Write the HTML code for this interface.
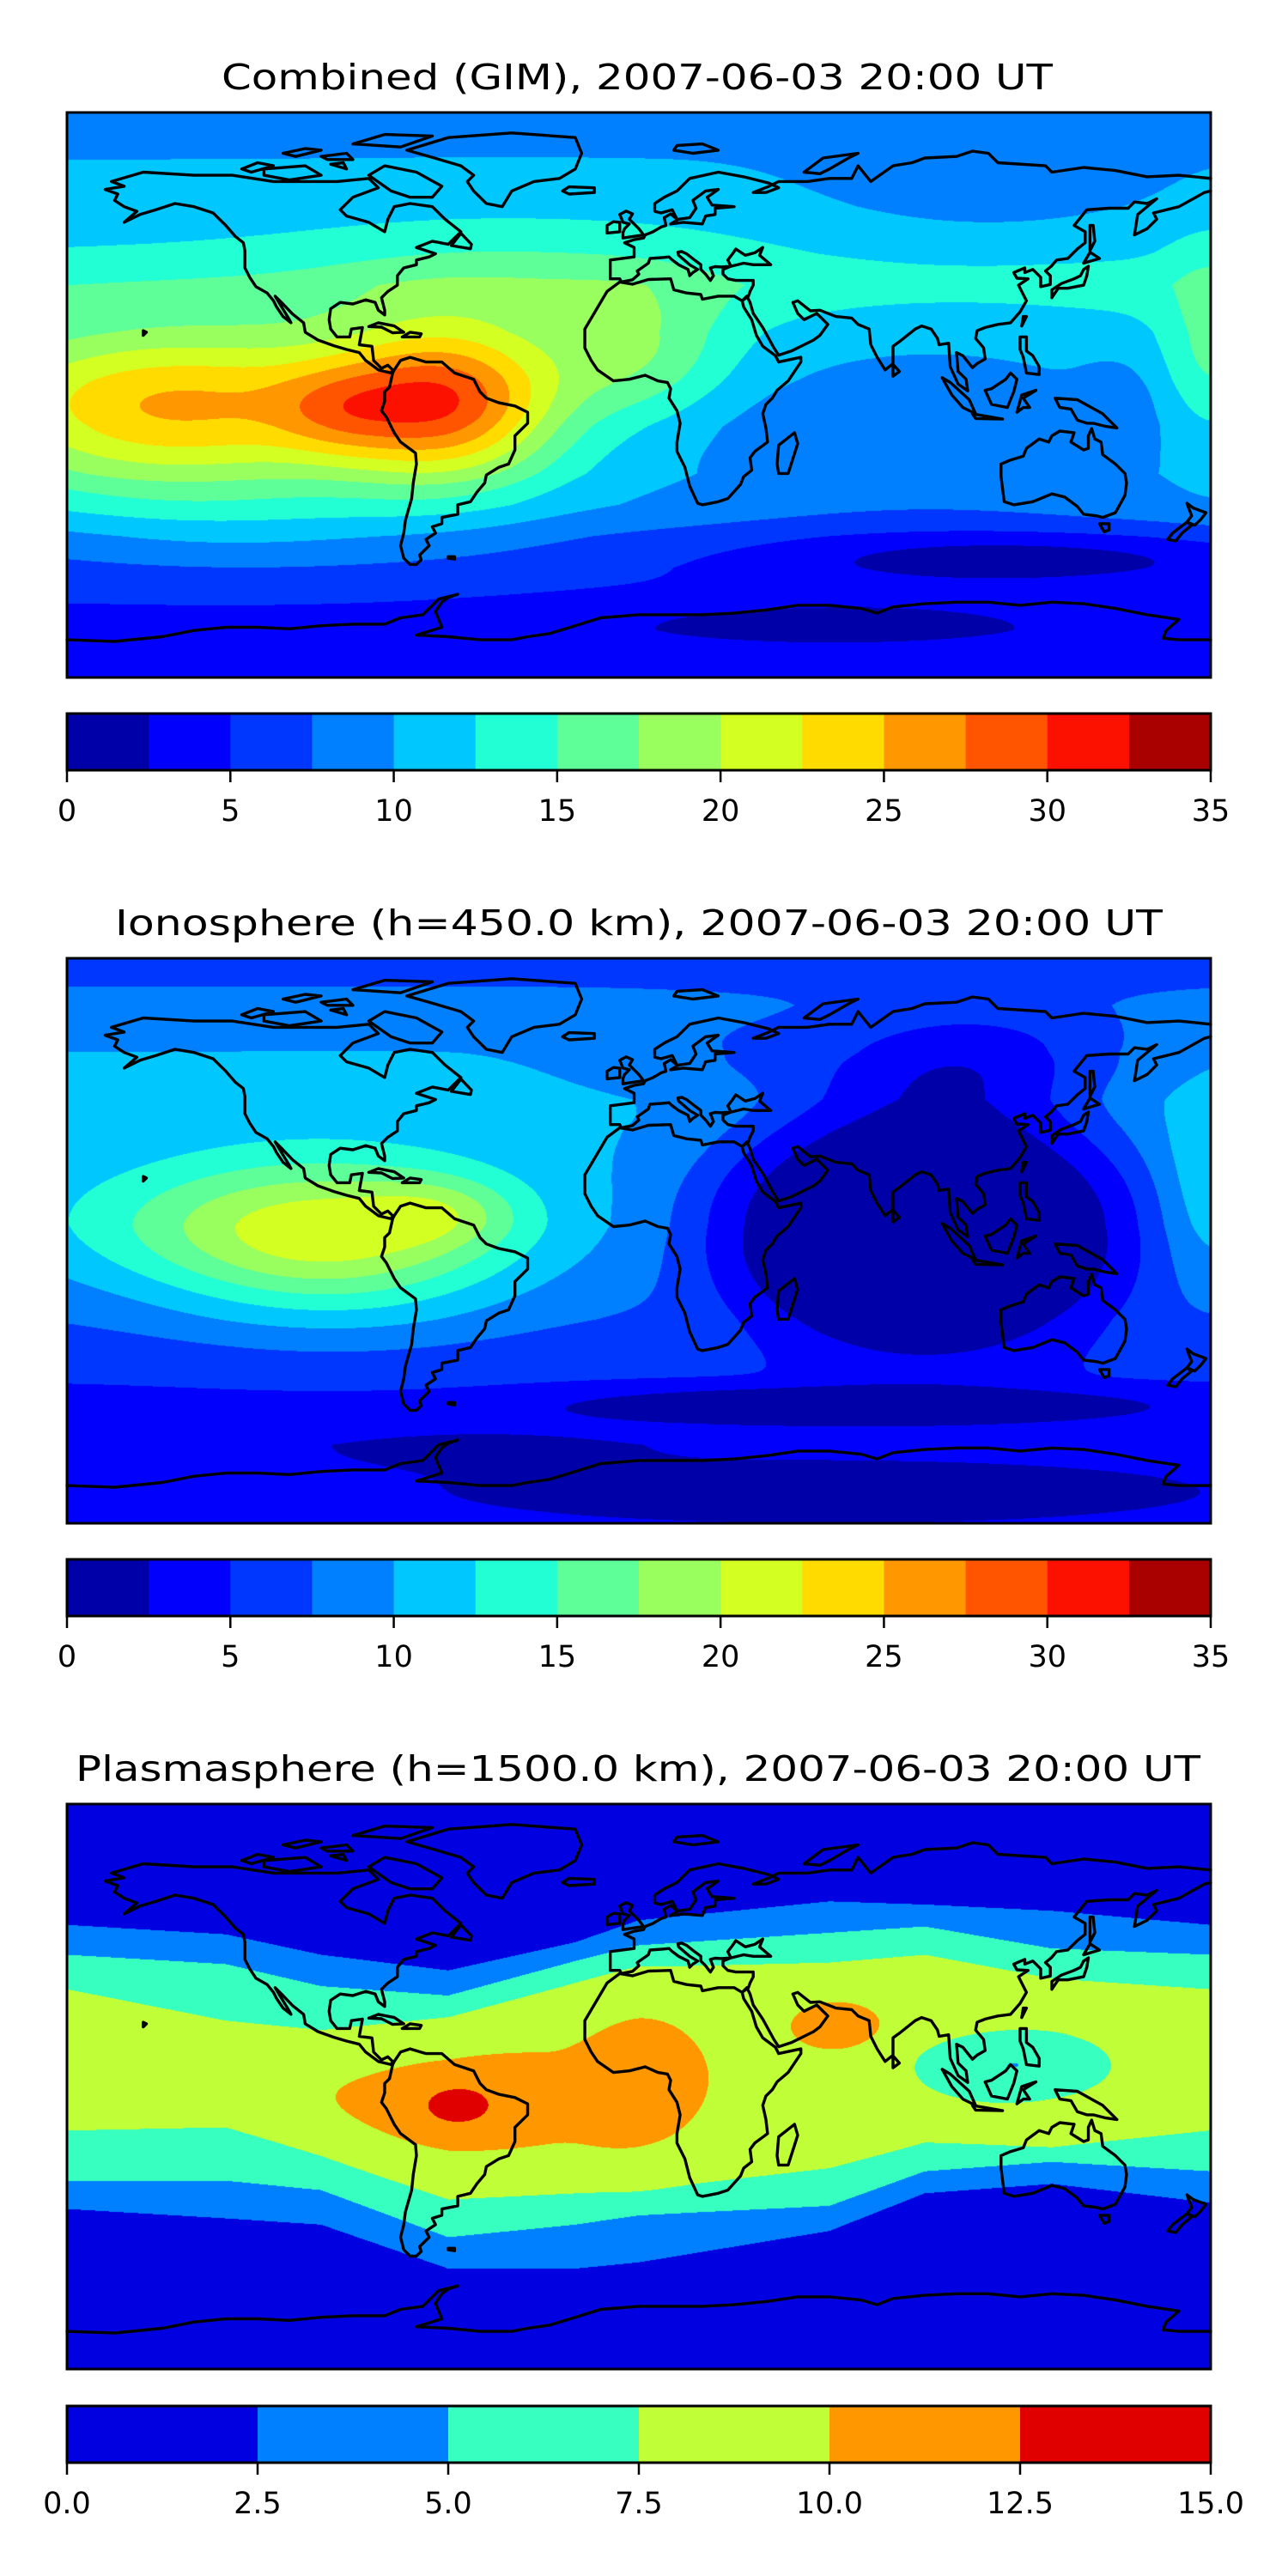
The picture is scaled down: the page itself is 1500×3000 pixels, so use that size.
<!DOCTYPE html>
<html><head><meta charset="utf-8"><title>GIM / Ionosphere / Plasmasphere TEC maps</title>
<style>
html,body{margin:0;padding:0;background:#fff;}
#page{position:relative;width:1500px;height:3000px;background:#fff;overflow:hidden;}
canvas{position:absolute;}
svg{position:absolute;left:0;top:0;}
</style></head>
<body>
<div id="page">
<canvas id="c0" width="1332" height="658" style="left:78px;top:131px"></canvas>
<canvas id="c1" width="1332" height="658" style="left:78px;top:1116px"></canvas>
<canvas id="c2" width="1332" height="658" style="left:78px;top:2101px"></canvas>
<svg id="ov" width="1500" height="3000" xmlns="http://www.w3.org/2000/svg"></svg>
</div>
<script>
// ---------- data ----------
const latNodes = [-90,-75,-65,-55,-45,-35,-25,-10,5,20,35,45,60,75,90];
const combinedBase = [3.5,4,5,6,7.5,10,11,11,12,12.5,14,12.5,11,10,8.5];
// [lon, lat, amplitude, sigmaLon, sigmaLat, (power)]
const combinedBlobs = [[-60,-3,15.5,25,17],[-145,-5,14,50,18],[-95,-5,4,15,10],[0,12,5,20,15],[-40,35,3,50,15],[180,15,4,10,22],[90,-10,-3.5,55,25],[110,68,-2.5,35,12],[120,-52,-4.5,60,6],[60,-72,-2.5,60,6],[-120,-45,2,50,10],[150,0,-2,8,8]];
const ionoBase = [3,3,3,4,5,6,7,8,9,9.5,10,10.5,10,8.5,6];
const ionoBlobs = [[-95,0,10,40,18],[-62,9,4,17,8],[-130,5,4,50,15],[90,7,-10,50,30,2],[105,58,-6,35,12],[30,58,-2,30,10],[180,15,3,12,20],[70,-52,-3,75,5,2],[60,-80,-2,70,6],[-50,-65,-1,40,6]];
const plasmaLonNodes = [-180,-130,-100,-60,-20,0,60,90,130,180];
const plasmaN25 = [51.5,48.5,42,37,46,53,59,58,56,51.5];
const plasmaN5  = [42,39,32,29,40,45,49,51,44,42];
const plasmaN75 = [31,21,18,22,33,38,39.5,42,34.5,31];
const plasmaS75 = [-14,-13,-22,-36,-34,-33,-26,-18,-19.5,-14];
const plasmaS5  = [-30,-30,-33,-48,-44,-41,-38,-27,-24,-27];
const plasmaS25 = [-39,-42,-44,-58,-58,-56,-46,-34,-31,-37];
const plasmaBlobs = [[-45,-5,1.5,35,14,2],[0,2,1.5,15,20,2],[-57,-6,2.5,9.5,5.5],[62,20,2.5,10,5.5,2],[118,7,-4.5,24,8]];
const combinedTicks = ["0","5","10","15","20","25","30","35"];
const plasmaTicks = ["0.0","2.5","5.0","7.5","10.0","12.5","15.0"];

// ---------- coastlines (lon,lat) ----------
const coasts = [
[[-166,68],[-156,71],[-140,70],[-128,70],[-115,68],[-95,68],[-85,69],[-82,66],[-90,63],[-94,59],[-92,57],[-85,55],[-80,52],[-79,56],[-77,60],[-72,61],[-65,60],[-61,56],[-56,52],[-60,48],[-65,49],[-70,47],[-64,45],[-66,44],[-70,43],[-70,41.5],[-74,40.5],[-76,38],[-76,35],[-79,33],[-81,31],[-80,27],[-80,25.5],[-82,27],[-83,29.5],[-86,30.3],[-90,29],[-94,29.5],[-97,27.5],[-97.5,24],[-97,21],[-95,18.5],[-91,18.5],[-90.5,21],[-87,21.5],[-88,16],[-84,15.5],[-83.5,11],[-81,8.5],[-79,9.5],[-77.5,8],[-78,7],[-80,7.5],[-82,8],[-86,11],[-88,13.5],[-92,14.5],[-96,15.7],[-101,17.5],[-105,20],[-105.5,23],[-109,25.8],[-112.5,29.5],[-114.5,31.5],[-113,29],[-110,24],[-109.5,23],[-112,25],[-114,28],[-115,30],[-117,32.5],[-120.5,34.5],[-122.5,37.5],[-124,40.5],[-124,46],[-124.5,48.5],[-127,50.5],[-130,54],[-134,58],[-140,60],[-146,61],[-152,59],[-157,57.5],[-162,55],[-158,58.5],[-162,60],[-165,62],[-164,64],[-168,65.5],[-162,66.5],[-166,68]],
[[-73,78],[-60,82],[-40,83.5],[-20,82],[-18,77],[-20,72],[-25,69],[-33,68],[-40,65],[-43,60],[-48,61],[-52,65],[-54,68],[-52,70],[-56,73],[-66,76],[-73,78]],
[[-80,73],[-70,71],[-62,66.5],[-65,63],[-72,63],[-78,65],[-85,70],[-80,73]],
[[-118,72],[-105,73],[-100,70],[-110,68.5],[-118,70],[-118,72]],
[[-90,80],[-80,83],[-65,82.5],[-75,79],[-90,80]],
[[-125,72],[-120,74],[-115,73],[-122,71],[-125,72]],
[[-100,76],[-92,77],[-90,75],[-98,75],[-100,76]],
[[-112,77],[-105,78.5],[-100,78],[-108,76],[-112,77]],
[[-97,73.5],[-93,74],[-92,72],[-97,73.5]],
[[-59,47.6],[-53,46.6],[-52.7,48],[-56,51.5],[-59,47.6]],
[[-85,21.8],[-82,23],[-77,22],[-74,20],[-77.5,19.8],[-81,21.6],[-85,21.8]],
[[-74.5,18.5],[-69,18.5],[-68.5,19.5],[-72,20],[-74.5,18.5]],
[[-77,8],[-75,11],[-72,12],[-67,10.5],[-62,10.5],[-58,7],[-52,5],[-50,1],[-48,-1],[-44,-2.5],[-39,-3.5],[-35,-5.5],[-35,-9],[-39,-13],[-39,-17.5],[-41,-22],[-44,-23],[-48,-25.5],[-48.5,-28],[-51,-31],[-53,-34],[-57,-35],[-57,-38],[-62,-39],[-62,-41],[-65,-42],[-64,-44],[-67,-46],[-66,-48],[-69,-51],[-68.5,-52.5],[-70,-54],[-72,-54],[-74,-52],[-75,-48],[-74,-44],[-73.5,-40],[-71.5,-33],[-71,-28],[-70,-22],[-70.3,-18.5],[-75,-15],[-77,-12],[-79.5,-7],[-81,-5],[-80,-2],[-80,1],[-78.5,2.5],[-77.5,7],[-77,8]],
[[-6,36],[-10,33],[-17,21],[-17,15],[-15,11],[-13,8],[-8,4.5],[-3,5],[2,6.3],[6,4.5],[9,4],[10,2],[9.5,-1],[12,-5],[13,-9],[12,-15],[12,-18],[14.5,-23],[16,-29],[18.5,-34.5],[20,-35],[25,-34],[28,-33],[32,-28.5],[33,-26],[35.5,-24],[35,-20],[36.5,-18],[40.5,-15],[40,-10.5],[39,-6],[40,-3],[42,-1],[43.5,1.5],[47,4.5],[51,10.5],[51,12],[44,10.5],[43,12.5],[39,15.5],[37,19],[35.5,24],[33,28],[32.5,30],[30,31.5],[25,31.5],[20,30.5],[19.5,32],[15,32.5],[11,33.5],[10,37],[3,36.8],[-2,35.3],[-6,36]],
[[32.5,30],[34,31.5],[35,29.5],[36,26],[39,21.5],[42.5,15],[44,12.7],[48,14],[52,16],[55,17.5],[57,19],[59.5,22.5],[56,26],[52,24],[50,26],[48.5,29.5],[50,30],[54,26.8],[57,27],[62,25],[67,24.5],[69,22.5],[72.5,21],[73,16],[75,12],[77.5,8],[80,10],[80,15.5],[82,17],[87,21],[89,22],[92,21],[94,18],[94.5,16],[97.5,16.5],[98,9],[100.5,3.5],[103.5,1.3],[103,5],[100.5,7.5],[100,13.5],[102,12.5],[105,8.7],[106.5,10],[109,11.5],[108.5,15],[106,18],[106.5,20.5],[109,21.5],[113,22.5],[117,23],[120,26.5],[122,30],[121,32],[119.5,35],[122.5,37],[119,37.2],[118,39],[121.5,40.5],[121.5,39],[124,40],[126.5,37.5],[126.5,34.5],[129.5,35.2],[129.5,38],[128,39.5],[129.8,41],[131.5,43],[135,43.5],[138,46.5],[140.5,48.5],[140.5,52],[137,54],[141,59],[148,59.5],[154,59.5],[156,61.5],[160,61],[163,62.5],[157,57.5],[156,51],[160,53],[163,56],[162,58],[170,60],[178,64.5],[180,65]],
[[180,69],[170,70],[160,69.5],[150,71.5],[140,72.5],[130,71],[128,73],[113,74],[110,77],[105,77.7],[100,76],[90,75.5],[86,74],[80,73],[73,68],[69,73],[67,69],[60,69],[53,68],[44,68],[41,66.5],[36,64.5],[40,64.5],[44,66],[41,67.5],[33,69.5],[25,71],[16,69],[12,65],[8,63],[5,61],[5,58.5],[7,58],[10.5,59],[12,56],[10,57.7],[8,56.5],[8.5,54],[7,53.5],[4.5,52],[2,51],[1.5,50],[-1.5,49.5],[-4.5,48.5],[-1.5,47],[-1.5,44],[-9,43],[-9,39],[-9,37],[-6,37],[-5.5,36],[-2,36.7],[0,38.5],[-0.5,39.5],[3,42],[3.5,43.5],[7.5,43.8],[9.5,44],[10.5,43],[12.5,41.5],[15.5,40],[16,38],[17,39],[18.5,40],[16,41.5],[13.5,43.7],[12.5,44.5],[12.3,45.5],[13.5,45.7],[15,45],[17.5,43],[19.5,41.5],[19.5,40],[21,38.5],[22.5,36.5],[23.5,38],[22.5,40.5],[24,40.9],[26,40.8],[29,41],[28,43],[29.5,45],[30.5,46.5],[33.5,44.5],[36.5,45.3],[39,47],[38,44.5],[41.5,41.5],[36,41.5],[33,42],[29,41],[26.5,40],[26.5,38.5],[28,37],[30.5,36.5],[36,36.5],[36,35],[35,33],[34.5,31.5],[32.5,30]],
[[10,54.5],[14,55],[20,54.5],[21,57],[24,57.5],[24,59.5],[30,60],[23,60.5],[21.5,63],[25,65.5],[21,65],[17,62],[18,59.5],[16,56.5],[12.5,56],[10,54.5]],
[[-5,50],[1.5,51],[0,53],[-3,56],[-2,57.7],[-4,58.6],[-6,57.5],[-5,55],[-3,54.5],[-4.5,53],[-5,51.7],[-5,50]],
[[-6,52],[-6,55],[-8,55.2],[-10,54],[-10,51.6],[-6,52]],
[[-22,64],[-14,64.5],[-14,66],[-22,66.3],[-24,65],[-22,64]],
[[11,78],[17,77],[25,78],[20,80],[12,79.5],[11,78]],
[[52,71],[57,70.5],[60,72],[66,75.5],[69,77],[58,75.5],[52,71]],
[[130,31],[132,34],[135,34],[140,35],[141,38],[141.5,41],[140,40],[139,38],[137,37],[133,35.5],[130,33.5],[130,31]],
[[140,42],[145,43.5],[142,45.5],[140,42]],
[[142,46],[143.5,49],[143,54],[142,54],[142,46]],
[[120.5,22],[122,25],[121,25],[120.5,22]],
[[44,-25],[47,-25],[50,-15.5],[49,-12],[44,-16],[43.5,-22],[44,-25]],
[[80,6],[82,7.5],[80,9.8],[80,6]],
[[120,18.5],[122,18.5],[122,14],[124,12.5],[126,9],[126,6.5],[122,7],[121,12],[120,14.5],[120,18.5]],
[[109,1.5],[111,-3],[116,-4],[118,1],[119,5],[117,7],[115.5,5],[111,2],[109,1.5]],
[[95.5,5.5],[98,4],[104,-1.5],[106,-6],[102,-4],[98.5,0],[95.5,5.5]],
[[105,-6],[114.5,-7.7],[106,-7.5],[105,-6]],
[[119,-5.5],[120.5,0],[125,1.5],[121,-1],[123,-4],[121,-4],[119,-5.5]],
[[131,-1],[138,-1.5],[146,-6],[150.5,-10.5],[147,-10],[143,-9],[141,-9],[138,-8],[136,-4.5],[132.5,-4],[131,-1]],
[[114,-22],[114,-26],[115,-34],[118,-35],[124,-34],[130,-31.5],[134,-32.5],[138,-35.5],[140,-38],[144,-38.5],[146,-39],[150,-37.5],[153,-32],[153.5,-28],[153,-25],[150,-22],[146,-19],[145.5,-15],[143.5,-14],[142.5,-10.7],[141.5,-13],[141.5,-17],[140,-17.5],[136,-15],[137,-12],[132.5,-11.5],[130,-13],[129,-15],[126,-14],[122,-17],[121,-19.5],[117,-20.7],[114,-22]],
[[145,-41],[148,-41],[148,-43],[146.5,-43.6],[145,-41]],
[[172.5,-34.5],[174.5,-36],[178.5,-37.5],[177,-39.5],[175,-41.5],[172.5,-40.5],[174,-38.5],[172.5,-34.5]],
[[172.5,-40.5],[174,-41.5],[171,-44],[169,-46.5],[166.5,-46],[168,-44],[172.5,-40.5]],
[[-180,-78],[-165,-78.5],[-150,-77],[-140,-75],[-130,-74],[-120,-74],[-110,-74.5],[-100,-73.5],[-90,-73],[-80,-73],[-75,-71],[-68,-70],[-63,-65],[-57,-63.5],[-60,-64.5],[-62,-66],[-64,-69],[-62,-74],[-70,-76.5],[-60,-77],[-50,-78],[-40,-78],[-35,-77],[-28,-76],[-20,-73.5],[-12,-71],[0,-70],[10,-70],[20,-70],[30,-69.5],[40,-68.5],[50,-67],[60,-67],[70,-68],[75,-69.5],[80,-67.5],[90,-66.5],[100,-66],[110,-66],[120,-67],[130,-66],[140,-66.5],[150,-68],[160,-70],[170,-71.5],[166,-75],[165,-77.5],[170,-78],[180,-78]],
[[-60,-51.5],[-58,-51.5],[-58,-52.3],[-60,-52],[-60,-51.5]],
[[-156,19],[-155,20],[-156,20.5],[-156,19]]
];

// ---------- helpers ----------
function interp(xs, ys, x){
  if(x<=xs[0]) return ys[0];
  for(let i=1;i<xs.length;i++){ if(x<=xs[i]){const t=(x-xs[i-1])/(xs[i]-xs[i-1]); return ys[i-1]+t*(ys[i]-ys[i-1]);} }
  return ys[ys.length-1];
}
function blobSum(lon,lat,blobs){
  let s=0;
  for(const b of blobs){ const dl=lon-b[0], dp=lat-b[1];
    const q=(dl*dl/(b[3]*b[3])+dp*dp/(b[4]*b[4]))/2;
    s+=b[2]*Math.exp(-Math.pow(q,b[5]||1)); }
  return s;
}
function jet(t){
  function seg(pts){ for(let i=1;i<pts.length;i++){ if(t<=pts[i][0]){const a=pts[i-1],b=pts[i];return a[1]+(t-a[0])/(b[0]-a[0])*(b[1]-a[1]);} } return pts[pts.length-1][1]; }
  const r=seg([[0,0],[0.35,0],[0.66,1],[0.89,1],[1,0.5]]);
  const g=seg([[0,0],[0.125,0],[0.375,1],[0.64,1],[0.91,0],[1,0]]);
  const b=seg([[0,0.5],[0.11,1],[0.34,1],[0.65,0],[1,0]]);
  return [Math.round(r*255),Math.round(g*255),Math.round(b*255)];
}
function fieldCombined(lon,lat){ return interp(latNodes,combinedBase,lat)+blobSum(lon,lat,combinedBlobs); }
function fieldIono(lon,lat){ return interp(latNodes,ionoBase,lat)+blobSum(lon,lat,ionoBlobs); }
function fieldPlasma(lon,lat){
  const L=plasmaLonNodes;
  const n25=interp(L,plasmaN25,lon),n5=interp(L,plasmaN5,lon),n75=interp(L,plasmaN75,lon);
  const s75=interp(L,plasmaS75,lon),s5=interp(L,plasmaS5,lon),s25=interp(L,plasmaS25,lon);
  let v;
  if(lat>=n25) v=Math.max(0.5,2.5-(lat-n25)*0.05);
  else if(lat>=n5) v=2.5+2.5*(n25-lat)/(n25-n5);
  else if(lat>=n75) v=5+2.5*(n5-lat)/(n5-n75);
  else if(lat>s75) v=7.5+2*Math.sin(Math.PI*(n75-lat)/(n75-s75));
  else if(lat>s5) v=7.5-2.5*(s75-lat)/(s75-s5);
  else if(lat>s25) v=5-2.5*(s5-lat)/(s5-s25);
  else v=Math.max(0.5,2.5-(s25-lat)*0.05);
  return v+blobSum(lon,lat,plasmaBlobs);
}
function renderField(id,fn,step,n){
  const cv=document.getElementById(id), ctx=cv.getContext('2d');
  const W=cv.width,H=cv.height, img=ctx.createImageData(W,H);
  const cols=[]; for(let i=0;i<n;i++) cols.push(jet((i+0.5)/n));
  for(let y=0;y<H;y++){ const lat=90-(y+0.5)/H*180;
    for(let x=0;x<W;x++){ const lon=-180+(x+0.5)/W*360;
      let k=Math.floor(fn(lon,lat)/step); if(k<0)k=0; if(k>n-1)k=n-1;
      const c=cols[k], o=(y*W+x)*4; img.data[o]=c[0];img.data[o+1]=c[1];img.data[o+2]=c[2];img.data[o+3]=255; } }
  ctx.putImageData(img,0,0);
}
renderField('c0',fieldCombined,2.5,14);
renderField('c1',fieldIono,2.5,14);
renderField('c2',fieldPlasma,2.5,6);

// ---------- overlay ----------
const NS='http://www.w3.org/2000/svg', ov=document.getElementById('ov');
function mk(tag,attrs,parent){ const e=document.createElementNS(NS,tag); for(const k in attrs) e.setAttribute(k,attrs[k]); (parent||ov).appendChild(e); return e; }
const MX=78, MW=1332, MH=658;
const panels=[
 {top:131, title:"Combined (GIM), 2007-06-03 20:00 UT", tx0:258, tx1:1226, cbTop:831, ticks:combinedTicks, n:14, key:'combined'},
 {top:1116, title:"Ionosphere  (h=450.0 km), 2007-06-03 20:00 UT", tx0:134, tx1:1354, cbTop:1816, ticks:combinedTicks, n:14, key:'ionosphere'},
 {top:2101, title:"Plasmasphere (h=1500.0 km), 2007-06-03 20:00 UT", tx0:88, tx1:1398, cbTop:2802, ticks:plasmaTicks, n:6, key:'plasmasphere'}
];
for(const p of panels){
  const g=mk('g',{});
  
  
  const t=mk('text',{x:(p.tx0+p.tx1)/2,y:p.top-27,'text-anchor':'middle','font-family':'DejaVu Sans, Liberation Sans, sans-serif','font-size':41,fill:'#000',textLength:p.tx1-p.tx0,lengthAdjust:'spacingAndGlyphs','xml:space':'preserve'},g);
  t.textContent=p.title;
  
  
  let d='';
  for(const line of coasts){
    let prev=null;
    for(const pt of line){
      const x=MX+(pt[0]+180)/360*MW, y=p.top+(90-pt[1])/180*MH;
      if(prev===null||Math.abs(pt[0]-prev)>180) d+='M'+x.toFixed(1)+' '+y.toFixed(1); else d+='L'+x.toFixed(1)+' '+y.toFixed(1);
      prev=pt[0];
    }
  }
  const cp=mk('path',{d:d,fill:'none',stroke:'#000','stroke-width':3.4,'stroke-linejoin':'round','stroke-linecap':'round'},g);
  
  
  const fr=mk('rect',{x:MX,y:p.top,width:MW,height:MH,fill:'none',stroke:'#000','stroke-width':3},g);
  
  
  const cb=mk('g',{},g);
  
  
  const cw=MW/p.n;
  for(let i=0;i<p.n;i++){
    const c=jet((i+0.5)/p.n);
    const r=mk('rect',{x:MX+i*cw,y:p.cbTop,width:cw+0.6,height:66,fill:'rgb('+c.join(',')+')'},cb);
    
    
  }
  mk('rect',{x:MX,y:p.cbTop,width:MW,height:66,fill:'none',stroke:'#000','stroke-width':3},cb);
  const nt=p.ticks.length;
  for(let i=0;i<nt;i++){
    const x=MX+i/(nt-1)*MW;
    mk('line',{x1:x,x2:x,y1:p.cbTop+66,y2:p.cbTop+80,stroke:'#000','stroke-width':2.5},cb);
    const tl=mk('text',{x:x,y:p.cbTop+125,'text-anchor':'middle','font-family':'DejaVu Sans, Liberation Sans, sans-serif','font-size':35,fill:'#000'},cb);
    tl.textContent=p.ticks[i];
    
    
  }
}
</script>
</body></html>
